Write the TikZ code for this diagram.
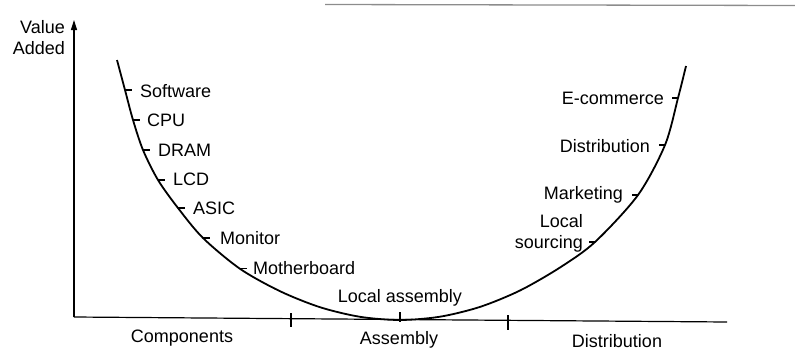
\documentclass[tikz,border=0pt]{standalone}
\usepackage{fontspec}
\setmainfont{Liberation Sans}
\usetikzlibrary{arrows.meta,calc}
\begin{document}
\begin{tikzpicture}[x=1pt,y=-1pt,
  lab/.style={inner sep=0pt, font=\fontsize{18}{21}\selectfont, text height=13pt, text depth=0pt},
  lab2/.style={inner sep=0pt, font=\fontsize{18}{21}\selectfont, align=right},
  curveline/.style={line width=1.8pt},
  axisline/.style={line width=1.2pt},
  tickmark/.style={line width=1.1pt}]
\useasboundingbox (0,0) rectangle (795,351);
% stray page rule at the top
\draw[black!45, line width=1.3pt] (325,4.5) -- (795,5.5);
% axes
\coordinate (O) at (74,317);
\coordinate (Ytop) at (74,20);
\coordinate (Xend) at (727,322);
\draw[axisline,-{Triangle[width=6pt,length=10pt]}] (O) -- (Ytop);
\draw[axisline] (O) -- (Xend);
% category separators on the x axis
\foreach \x/\ya/\yb/\n in {291/313/327/a,400/312/322/b,508/315/330/c}{
  \coordinate (xt\n1) at (\x,\ya);
  \coordinate (xt\n2) at (\x,\yb);
  \draw[tickmark] (xt\n1) -- (xt\n2);
}
\node[lab2, anchor=north east] (ylab) at (65,20) {Value\\Added};
% smile curve
\draw[curveline] plot[smooth,tension=0.5] coordinates {
 (117,60) (125,90) (133,120) (143,150) (158,180) (178,208) (203,238) (240,268.8)
 (280,291.2) (320,307.2) (360,316.8) (400,320) (440,316.7) (480,306.9) (520,290.5)
 (560,267.5) (595,242) (638,195) (665,145) (678,98) (686,66)};
% left ticks and labels
\foreach \x/\y/\n in {125/90/sw,133/120/cpu,143/150/dram,158/180/lcd,178/208/asic,203/238/mon,240/268.8/mb}{
  \coordinate (c\n) at (\x,\y);
  \draw[tickmark] (c\n) -- ++(7,0);
}
\node[lab, anchor=west] (sw) at (140,91) {Software};
\node[lab, anchor=west] (cpu) at (147,120) {CPU};
\node[lab, anchor=west] (dram) at (158,150) {DRAM};
\node[lab, anchor=west] (lcd) at (173,179) {LCD};
\node[lab, anchor=west] (asic) at (193,208) {ASIC};
\node[lab, anchor=west] (mon) at (220,238) {Monitor};
\node[lab, anchor=west] (mb) at (253,268) {Motherboard};
\node[lab] (la) at (400,296) {Local assembly};
% right ticks and labels
\foreach \x/\y/\n in {678/98/ec,665/145/dist,638/195/mkt,595/242/ls}{
  \coordinate (c\n) at (\x,\y);
  \draw[tickmark] (c\n) -- ++(-6,0);
}
\node[lab, anchor=east] (ec) at (664,98) {E-commerce};
\node[lab, anchor=east] (dist) at (650,146) {Distribution};
\node[lab, anchor=east] (mkt) at (623,193) {Marketing};
\node[lab2, anchor=north east] (ls) at (583,214.5) {Local\\sourcing};
% axis categories
\node[lab] (comp) at (182,336) {Components};
\node[lab] (asm) at (399,338) {Assembly};
\node[lab] (distb) at (617,341) {Distribution};
\end{tikzpicture}
\end{document}
